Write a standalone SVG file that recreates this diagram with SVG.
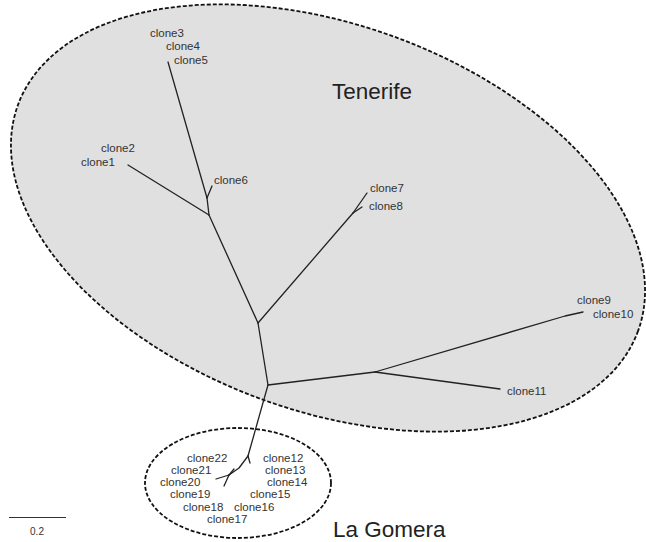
<svg xmlns="http://www.w3.org/2000/svg" width="646" height="542" viewBox="0 0 646 542">
<style>
.region{stroke:#111;stroke-width:1.8;stroke-dasharray:4 2}
.br{fill:none;stroke:#222;stroke-width:1.3;stroke-linecap:round;stroke-linejoin:round}
.lbl{font-family:"Liberation Sans",Arial,sans-serif;font-size:11.5px;fill:#333}
.big{font-family:"Liberation Sans",Arial,sans-serif;font-size:22.5px;fill:#222}
</style>
<rect width="646" height="542" fill="#fff"/>
<g id="tenerife-region">
<ellipse class="region" cx="328" cy="218" rx="330" ry="193" transform="rotate(20 328 218)" fill="#e0e0e0"/>
<text class="big" x="332" y="99">Tenerife</text>
</g>
<g id="lagomera-region">
<ellipse class="region" cx="238" cy="483" rx="93" ry="55" fill="none"/>
<text class="big" x="333" y="537">La Gomera</text>
</g>
<g id="connectors">
<path class="br" d="M268,385 L258,323"/>
<path class="br" d="M258,323 L209,215"/>
<path class="br" d="M209,215 L128,165"/>
<path class="br" d="M209,215 L207,198"/>
<path class="br" d="M207,198 L168,62"/>
<path class="br" d="M207,198 L212,186"/>
<path class="br" d="M258,323 L353,213"/>
<path class="br" d="M353,213 L367,193"/>
<path class="br" d="M353,213 L362,207"/>
<path class="br" d="M268,385 L375,372"/>
<path class="br" d="M375,372 L565,316 L583,312"/>
<path class="br" d="M375,372 L500,389"/>
<path class="br" d="M268,385 L248,456"/>
<path class="br" d="M248,456 L250,463"/>
<path class="br" d="M248,456 L239,468 L229,475"/>
<path class="br" d="M229,475 L216,479"/>
<path class="br" d="M229,475 L224,486"/>
<path class="br" d="M229,475 L234,469"/>
</g>
<g id="clone1"><text class="lbl" x="81" y="166">clone1</text></g>
<g id="clone2"><text class="lbl" x="101" y="152">clone2</text></g>
<g id="clone3"><text class="lbl" x="150" y="37">clone3</text></g>
<g id="clone4"><text class="lbl" x="166" y="50">clone4</text></g>
<g id="clone5"><text class="lbl" x="174" y="64">clone5</text></g>
<g id="clone6"><text class="lbl" x="214" y="184">clone6</text></g>
<g id="clone7"><text class="lbl" x="370" y="192">clone7</text></g>
<g id="clone8"><text class="lbl" x="369" y="210">clone8</text></g>
<g id="clone9"><text class="lbl" x="577" y="304">clone9</text></g>
<g id="clone10"><text class="lbl" x="593" y="318">clone10</text></g>
<g id="clone11"><text class="lbl" x="507" y="395">clone11</text></g>
<g id="clone12"><text class="lbl" x="263" y="462">clone12</text></g>
<g id="clone13"><text class="lbl" x="265" y="474">clone13</text></g>
<g id="clone14"><text class="lbl" x="267" y="486">clone14</text></g>
<g id="clone15"><text class="lbl" x="250" y="498">clone15</text></g>
<g id="clone16"><text class="lbl" x="234" y="511">clone16</text></g>
<g id="clone17"><text class="lbl" x="207" y="523">clone17</text></g>
<g id="clone18"><text class="lbl" x="183" y="511">clone18</text></g>
<g id="clone19"><text class="lbl" x="170" y="498">clone19</text></g>
<g id="clone20"><text class="lbl" x="160" y="486">clone20</text></g>
<g id="clone21"><text class="lbl" x="171" y="474">clone21</text></g>
<g id="clone22"><text class="lbl" x="187" y="462">clone22</text></g>
<g id="scale-bar">
<line x1="9" y1="517.5" x2="66" y2="517.5" stroke="#333" stroke-width="1.2"/>
<text x="37" y="535" font-family="'Liberation Sans',Arial,sans-serif" font-size="10px" fill="#333" text-anchor="middle">0.2</text>
</g>
</svg>
